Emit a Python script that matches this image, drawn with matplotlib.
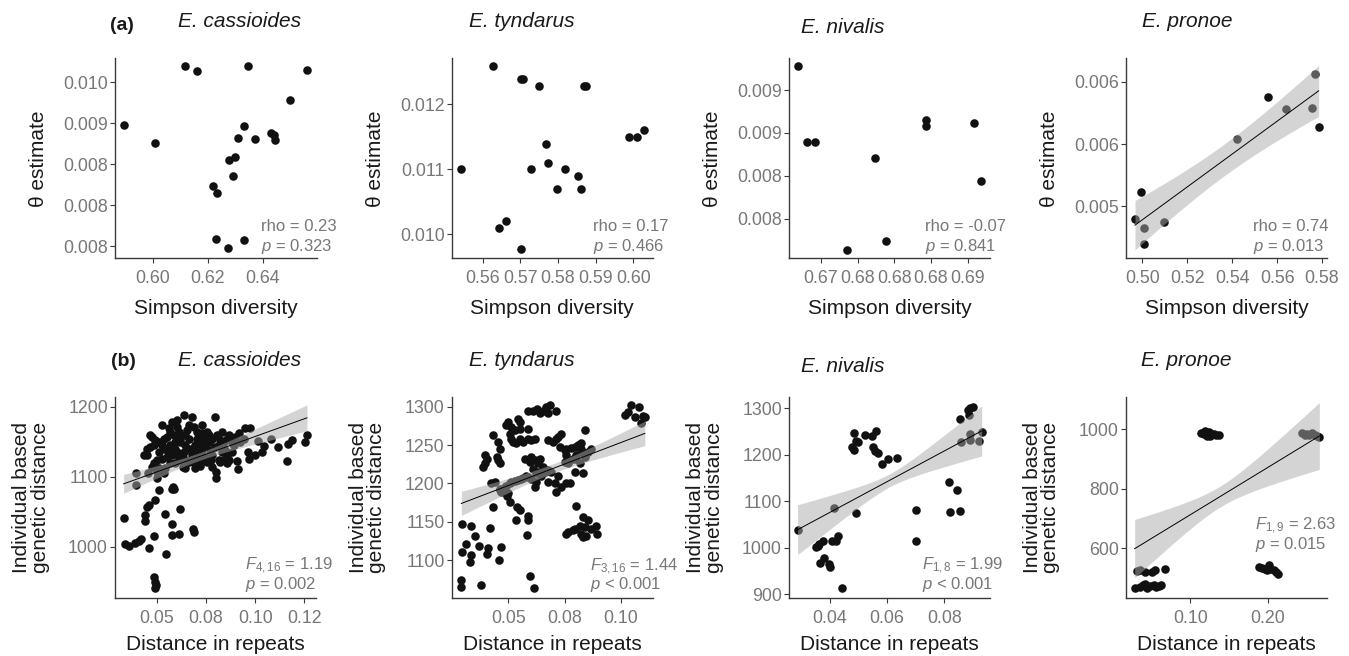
import numpy as np
import matplotlib
matplotlib.use("Agg")
import matplotlib.pyplot as plt

plt.rcParams['font.family'] = ['Liberation Sans', 'DejaVu Sans']
plt.rcParams['mathtext.fontset'] = 'custom'
plt.rcParams['mathtext.rm'] = 'Liberation Sans'
plt.rcParams['mathtext.it'] = 'Liberation Sans:italic'

species = ['E. cassioides', 'E. tyndarus', 'E. nivalis', 'E. pronoe']

# (a) Simpson diversity vs theta estimate
cas_simpson = [0.5896, 0.6010, 0.6116, 0.6162, 0.6345, 0.6562, 0.6499, 0.6331, 0.6310, 0.6372, 0.6429,
               0.6441, 0.6445, 0.6279, 0.6299, 0.6293, 0.6218, 0.6233, 0.6230, 0.6273, 0.6333]
cas_theta = [0.00948, 0.00926, 0.01019, 0.01014, 0.01020, 0.01015, 0.00978, 0.00947, 0.00932, 0.00930, 0.00938,
             0.00935, 0.00929, 0.00905, 0.00908, 0.00885, 0.00873, 0.00865, 0.00808, 0.00797, 0.00807]

tyn_simpson = [0.5627, 0.5702, 0.5708, 0.5750, 0.5869, 0.5873, 0.5989, 0.6009, 0.6029, 0.5542,
               0.5767, 0.5773, 0.5728, 0.5819, 0.5854, 0.5796, 0.5860, 0.5663, 0.5644, 0.5702]
tyn_theta = [0.01259, 0.01239, 0.01239, 0.01229, 0.01229, 0.01229, 0.01150, 0.01150, 0.01160, 0.01100,
             0.01139, 0.01110, 0.01100, 0.01100, 0.01090, 0.01070, 0.01070, 0.01020, 0.01010, 0.00977]

niv_simpson = [0.66682, 0.66805, 0.66918, 0.67736, 0.68427, 0.68427, 0.69082, 0.69186, 0.67359, 0.67886]
niv_theta = [0.009284, 0.008400, 0.008400, 0.008205, 0.008657, 0.008583, 0.008618, 0.007936, 0.007141, 0.007238]

pro_simpson = [0.49673, 0.49955, 0.50059, 0.50074, 0.50980, 0.54215, 0.55581, 0.56397, 0.57688, 0.57570, 0.57852]
pro_theta = [0.004901, 0.005115, 0.004826, 0.004700, 0.004874, 0.005539, 0.005877, 0.005778, 0.006062,
             0.005786, 0.005638]

rho_values = ['0.23', '0.17', '-0.07', '0.74']
rho_p = ['= 0.323', '= 0.466', '= 0.841', '= 0.013']

# (b) distance in repeats vs individual based genetic distance
cas_repeats = [0.0330, 0.0335, 0.0359, 0.0390, 0.0410, 0.0420, 0.0458, 0.0483, 0.0485, 0.0492, 0.0488, 0.0495,
               0.0548, 0.0576, 0.0610, 0.0576, 0.0619, 0.0539, 0.0441, 0.0437, 0.0449, 0.0458, 0.0492, 0.0509,
               0.0576, 0.0587, 0.0582, 0.0682, 0.0687, 0.0393, 0.0393, 0.0454, 0.0500, 0.0502, 0.0534,
               0.1264, 0.1252, 0.1187, 0.1165, 0.1162, 0.1114, 0.1082, 0.1043, 0.1013, 0.1035,
               0.1001, 0.0963, 0.0967, 0.0950, 0.0975, 0.0919, 0.0899, 0.0885, 0.0907, 0.0912,
               0.0865, 0.0848, 0.0814, 0.0800, 0.0800, 0.0831, 0.0797, 0.0865, 0.0831, 0.0777,
               0.0755, 0.0780, 0.0729, 0.0695, 0.0712, 0.0678, 0.0641, 0.0631, 0.0610, 0.0593,
               0.0568, 0.0543, 0.0526, 0.0509, 0.0475, 0.0466, 0.0492, 0.0509, 0.0526, 0.0560,
               0.0576, 0.0602, 0.0636, 0.0678, 0.0661, 0.0687, 0.0704, 0.0729, 0.0738, 0.0763,
               0.0721, 0.0695, 0.0661, 0.0644, 0.0610, 0.0585, 0.0551, 0.0534, 0.0619, 0.0644,
               0.0670, 0.0704, 0.0729, 0.0746, 0.0772, 0.0797, 0.0814, 0.0840, 0.0856, 0.0873,
               0.0890, 0.0924, 0.0941, 0.0780, 0.0806, 0.0823, 0.0636, 0.0602, 0.0576, 0.0551,
               0.0526, 0.0500, 0.0483, 0.0432, 0.0449, 0.0543, 0.0568, 0.0593, 0.0610, 0.0712,
               0.0746, 0.0780, 0.0856, 0.0661, 0.0636, 0.0678, 0.0593, 0.0619, 0.0653, 0.0602,
               0.0568, 0.0704, 0.0729, 0.0755, 0.0763, 0.0823, 0.0848, 0.0882, 0.0856, 0.0483,
               0.0466, 0.0449, 0.0551, 0.0576, 0.0695, 0.0721, 0.0509, 0.0475]
cas_gendist = [1041, 1004, 1001, 1005, 1009, 1012, 998, 1016, 957, 950, 942, 946,
               990, 1017, 1018, 1033, 1054, 1047, 1037, 1045, 1057, 1060, 1067, 1081,
               1083, 1082, 1086, 1026, 1022, 1088, 1106, 1105, 1098, 1107, 1106,
               1160, 1149, 1152, 1146, 1123, 1143, 1154, 1144, 1151, 1135,
               1131, 1135, 1126, 1169, 1170, 1162, 1157, 1146, 1122, 1111,
               1124, 1126, 1124, 1107, 1098, 1164, 1185, 1159, 1135, 1124,
               1121, 1114, 1121, 1112, 1126, 1128, 1112, 1114, 1128, 1140,
               1145, 1140, 1145, 1150, 1157, 1159, 1152, 1135, 1173, 1169,
               1178, 1181, 1188, 1185, 1173, 1171, 1164, 1173, 1154, 1150,
               1147, 1145, 1154, 1159, 1164, 1159, 1157, 1154, 1150, 1145,
               1140, 1135, 1138, 1143, 1138, 1143, 1145, 1150, 1154, 1152,
               1145, 1150, 1154, 1154, 1159, 1121, 1135, 1135, 1131, 1128,
               1126, 1124, 1119, 1131, 1131, 1112, 1119, 1119, 1124, 1131,
               1128, 1131, 1119, 1121, 1126, 1133, 1150, 1154, 1166, 1171,
               1164, 1154, 1162, 1164, 1159, 1152, 1138, 1135, 1131, 1145,
               1143, 1140, 1138, 1140, 1119, 1116, 1112, 1114]

tyn_repeats = [0.0294, 0.0332, 0.0350, 0.0313, 0.0294, 0.0332, 0.0328, 0.0368, 0.0409, 0.0406, 0.0417, 0.0469,
               0.0457, 0.0291, 0.0291, 0.0380, 0.0595, 0.0614, 0.0584, 0.0587, 0.0587, 0.0536, 0.0550, 0.0540,
               0.0506, 0.0495, 0.0432, 0.0469, 0.0498,
               0.0595, 0.0617, 0.0632, 0.0610, 0.0632, 0.0647, 0.0625, 0.0620, 0.0602, 0.0580, 0.0654, 0.0639,
               0.0602, 0.0573, 0.0558, 0.0528, 0.0506, 0.0484, 0.0461, 0.0439, 0.0677, 0.0706, 0.0714, 0.0736,
               0.0758, 0.0773, 0.0721, 0.0691, 0.0662,
               0.0395, 0.0406, 0.0398, 0.0454, 0.0461, 0.0387, 0.0451, 0.0432, 0.0454, 0.0461, 0.0491, 0.0498,
               0.0513, 0.0528, 0.0550, 0.0506, 0.0513, 0.0521, 0.0536, 0.0550, 0.0565, 0.0587, 0.0602, 0.0617,
               0.0587, 0.0550, 0.0543,
               0.0587, 0.0610, 0.0629, 0.0639, 0.0654, 0.0669, 0.0684, 0.0677, 0.0714,
               0.0677, 0.0699, 0.0714, 0.0721, 0.0736, 0.0728, 0.0751, 0.0758, 0.0780, 0.0795, 0.0810, 0.0825,
               0.0840, 0.0825, 0.0832, 0.0803, 0.0788, 0.0818, 0.0795, 0.0832, 0.0765, 0.0751, 0.0758,
               0.0424, 0.0461, 0.0491, 0.0513, 0.0543, 0.0565, 0.0587, 0.0625, 0.0654, 0.0677, 0.0765, 0.0803,
               0.0840, 0.0855, 0.0869,
               0.0803, 0.0832, 0.0855, 0.0840, 0.0818, 0.0795, 0.0765, 0.0758, 0.0788, 0.0825, 0.0832, 0.0847,
               0.0892, 0.0896, 0.0869,
               0.1018, 0.1033, 0.1045, 0.1062, 0.1080, 0.1099, 0.1107, 0.1089]
tyn_gendist = [1147, 1144, 1132, 1121, 1110, 1107, 1097, 1119, 1116, 1108, 1142, 1117,
               1100, 1074, 1065, 1067, 1079, 1063, 1133, 1157, 1152, 1152, 1165, 1169,
               1176, 1184, 1169, 1189, 1187,
               1228, 1230, 1226, 1219, 1215, 1210, 1202, 1195, 1206, 1210, 1221, 1232,
               1234, 1232, 1206, 1203, 1200, 1195, 1191, 1202, 1202, 1200, 1189, 1195,
               1200, 1200, 1210, 1215, 1215,
               1237, 1232, 1226, 1230, 1226, 1221, 1234, 1263, 1254, 1245, 1276, 1280,
               1273, 1269, 1271, 1265, 1258, 1254, 1252, 1258, 1254, 1258, 1256, 1258,
               1271, 1280, 1284,
               1294, 1295, 1297, 1292, 1294, 1300, 1302, 1292, 1295,
               1256, 1254, 1258, 1260, 1265, 1247, 1243, 1245, 1246, 1247, 1250, 1252,
               1269, 1245, 1239, 1237, 1232, 1226, 1215, 1213, 1228, 1228, 1237,
               1201, 1193, 1197, 1202, 1205, 1207, 1208, 1213, 1216, 1218, 1226, 1232,
               1234, 1241, 1245,
               1171, 1156, 1152, 1143, 1145, 1141, 1137, 1134, 1139, 1134, 1130, 1132,
               1145, 1134, 1141,
               1289, 1293, 1302, 1287, 1300, 1288, 1287, 1279]

niv_repeats = [0.0287, 0.0357, 0.0377, 0.0407, 0.0421, 0.0427, 0.0366, 0.0380, 0.0398, 0.0401, 0.0444, 0.0413,
               0.0493, 0.0485, 0.0491, 0.0479, 0.0485, 0.0497, 0.0524, 0.0548, 0.0561, 0.0552, 0.0559, 0.0570,
               0.0584, 0.0602, 0.0634, 0.0701, 0.0701, 0.0818, 0.0844, 0.0821, 0.0855, 0.0856, 0.0882, 0.0891,
               0.0899, 0.0887, 0.0858, 0.0890, 0.0891, 0.0920, 0.0931, 0.0351, 0.0363]
niv_gendist = [1039, 1005, 1015, 1014, 1014, 1025, 968, 978, 966, 959, 914, 1086,
               1074, 1248, 1229, 1217, 1210, 1228, 1242, 1240, 1252, 1217, 1208, 1205,
               1181, 1190, 1193, 1081, 1015, 1142, 1125, 1077, 1080, 1278, 1296, 1301,
               1303, 1285, 1228, 1244, 1231, 1230, 1249, 1002, 1009]

pro_repeats = [0.1142, 0.1172, 0.1203, 0.1228, 0.1246, 0.1272, 0.1302, 0.1332, 0.1366, 0.1216, 0.1185, 0.1259,
               0.2444, 0.2478, 0.2509, 0.2539, 0.2573, 0.2608, 0.2638, 0.2668,
               0.1892, 0.1927, 0.1961, 0.2013, 0.2034, 0.2078, 0.2108, 0.2133, 0.1991,
               0.0310, 0.0354, 0.0410, 0.0504, 0.0539, 0.0677,
               0.0280, 0.0353, 0.0384, 0.0410, 0.0440, 0.0483, 0.0526, 0.0556, 0.0600, 0.0625]
pro_gendist = [987.7, 984.4, 987.7, 981.0, 989.9, 983.2, 984.4, 981.0, 978.8, 976.5, 992.2, 976.5,
               987.7, 981.0, 984.4, 978.8, 987.7, 981.0, 976.5, 973.2,
               537.4, 534.1, 531.8, 543.0, 529.6, 526.3, 520.7, 515.1, 528.5,
               524.0, 526.2, 520.7, 520.7, 526.2, 531.8,
               467.0, 470.4, 476.0, 481.6, 467.0, 473.7, 478.1, 470.4, 473.7, 476.0]

# fitted model lines of panel (b): intercept, slope, band centre, half-width there, half-width at right end
fit_intercept = [1056.7, 1141.3, 944.3, 554.6]
fit_slope = [1006.5, 1118.9, 3299.5, 1582.0]
band_x0 = [0.0714, 0.0696, 0.0608, 0.1384]
band_h0 = [5.5, 6.0, 14.0, 35.0]
band_hright = [18.5, 16.0, 54.0, 112.0]

f_df = ['4,16', '3,16', '1,8', '1,9']
f_values = ['1.19', '1.44', '1.99', '2.63']
f_p = ['= 0.002', '< 0.001', '< 0.001', '= 0.015']

# tick labels as printed
top_xticks = [[0.60, 0.62, 0.64], [0.56, 0.57, 0.58, 0.59, 0.60],
              [0.670, 0.675, 0.680, 0.685, 0.690], [0.50, 0.52, 0.54, 0.56, 0.58]]
top_xlabels = [['0.60', '0.62', '0.64'], ['0.56', '0.57', '0.58', '0.59', '0.60'],
               ['0.67', '0.68', '0.68', '0.68', '0.69'], ['0.50', '0.52', '0.54', '0.56', '0.58']]
top_yticks = [[0.0100, 0.0095, 0.0090, 0.0085, 0.0080], [0.012, 0.011, 0.010],
              [0.0090, 0.0085, 0.0080, 0.0075], [0.0060, 0.0055, 0.0050]]
top_ylabels = [['0.010', '0.009', '0.008', '0.008', '0.008'], ['0.012', '0.011', '0.010'],
               ['0.009', '0.009', '0.008', '0.008'], ['0.006', '0.006', '0.005']]
bot_xticks = [[0.050, 0.075, 0.100, 0.125], [0.050, 0.075, 0.100], [0.04, 0.06, 0.08], [0.10, 0.20]]
bot_xlabels = [['0.05', '0.08', '0.10', '0.12'], ['0.05', '0.08', '0.10'], ['0.04', '0.06', '0.08'],
               ['0.10', '0.20']]
bot_yticks = [[1000, 1100, 1200], [1100, 1150, 1200, 1250, 1300], [900, 1000, 1100, 1200, 1300],
              [600, 800, 1000]]
bot_ylabels = [[str(v) for v in t] for t in bot_yticks]

# ---------------------------------------------------------------- layout
W, H = 1349, 656
AXIS_COL = '#3a3a3a'
TICK_COL = '#777777'
PT_COL = '#111111'
BAND_COL = '#aaaaaa'
PT_SIZE = 38
TICK_SIZE = 12.8

top_boxes = [(115, 58.3, 316.7, 258.3), (451.7, 58.3, 652.7, 258.3),
             (789, 58.3, 990, 258.3), (1126, 58.3, 1327.3, 258.3)]
bot_boxes = [(115, 396.7, 316, 597.7), (451.7, 396.7, 652.7, 597.7),
             (789, 396.7, 990, 597.7), (1126, 396.7, 1327.3, 597.7)]
top_lims = [((0.5863, 0.6596), (0.00785, 0.01029)), ((0.5518, 0.6051), (0.00963, 0.01271)),
            ((0.66564, 0.69305), (0.00704, 0.00937)), ((0.49273, 0.58237), (0.004584, 0.006188))]
bot_lims = [((0.0286, 0.1310), (927.8, 1214)), ((0.0248, 0.1142), (1051, 1313)),
            ((0.0257, 0.0960), (892.8, 1325)), ((0.0168, 0.2771), (434.6, 1108.4))]

fig = plt.figure(figsize=(W / 100, H / 100), dpi=100)


def px_text(x, y, s, **kw):
    fig.text(x / W, 1 - y / H, s, **kw)


def make_axes(box, lims, xt, xl, yt, yl):
    l, t, r, b = box
    ax = fig.add_axes([l / W, 1 - b / H, (r - l) / W, (b - t) / H])
    for side in ['top', 'right']:
        ax.spines[side].set_visible(False)
    for side in ['left', 'bottom']:
        ax.spines[side].set_color(AXIS_COL)
        ax.spines[side].set_linewidth(1.0)
    ax.set_xlim(*lims[0])
    ax.set_ylim(*lims[1])
    ax.set_xticks(xt, xl)
    ax.set_yticks(yt, yl)
    ax.tick_params(length=3.6, width=0.8, color=AXIS_COL, labelcolor=TICK_COL, labelsize=TICK_SIZE)
    ax.tick_params(axis='x', pad=5)
    ax.tick_params(axis='y', pad=1.5)
    return ax, b - t


def ols_band(x, y, t_crit):
    x = np.asarray(x)
    y = np.asarray(y)
    n = len(x)
    slope, icept = np.polyfit(x, y, 1)
    resid = y - (icept + slope * x)
    s = np.sqrt(np.sum(resid ** 2) / (n - 2))
    sxx = np.sum((x - x.mean()) ** 2)
    xs = np.linspace(x.min(), x.max(), 100)
    fit = icept + slope * xs
    se = s * np.sqrt(1 / n + (xs - x.mean()) ** 2 / sxx)
    return xs, fit, fit - t_crit * se, fit + t_crit * se


def model_band(x, icept, slope, x0, h0, h_right):
    x = np.asarray(x)
    xs = np.linspace(x.min(), x.max(), 100)
    fit = icept + slope * xs
    k = np.sqrt(h_right ** 2 - h0 ** 2) / (x.max() - x0)
    half = np.sqrt(h0 ** 2 + (k * (xs - x0)) ** 2)
    return xs, fit, fit - half, fit + half


top_x = [cas_simpson, tyn_simpson, niv_simpson, pro_simpson]
top_y = [cas_theta, tyn_theta, niv_theta, pro_theta]
bot_x = [cas_repeats, tyn_repeats, niv_repeats, pro_repeats]
bot_y = [cas_gendist, tyn_gendist, niv_gendist, pro_gendist]

# ---------------------------------------------------------------- row (a)
rho_left = [261, 593.3, 925, 1253]
for i in range(4):
    ax, h = make_axes(top_boxes[i], top_lims[i], top_xticks[i], top_xlabels[i], top_yticks[i], top_ylabels[i])
    ax.scatter(top_x[i], top_y[i], s=PT_SIZE, color=PT_COL, linewidths=0, zorder=2)
    if i == 3:
        xs, fit, lo, hi = ols_band(top_x[i], top_y[i], 2.262)
        ax.fill_between(xs, lo, hi, color=BAND_COL, alpha=0.5, linewidth=0, zorder=3)
        ax.plot(xs, fit, color='black', lw=0.7, zorder=4)
    ax.set_xlabel('Simpson diversity', fontsize=15, color='#1a1a1a')
    ax.xaxis.set_label_coords(0.5, -56 / h)
    ax.xaxis.label.set_va('baseline')
    ax.set_ylabel('θ estimate', fontsize=15, color='#1a1a1a')
    ax.yaxis.set_label_coords(-76 / 201, 0.5)
    ax.yaxis.label.set_va('center')
    px_text(rho_left[i], 231, 'rho = ' + rho_values[i], fontsize=12, color=TICK_COL)
    px_text(rho_left[i], 250.5, r'$p$ ' + rho_p[i], fontsize=12, color=TICK_COL)

top_title_x = [240, 522, 843, 1187.5]
top_title_y = [27.3, 27.3, 33.3, 27.3]
for i in range(4):
    px_text(top_title_x[i], top_title_y[i], species[i], fontsize=15, fontstyle='italic',
            ha='center', color='#1a1a1a')
px_text(110, 30, '(a)', fontsize=14, fontweight='bold', color='#1a1a1a')

# ---------------------------------------------------------------- row (b)
f_left = [245, 590, 921.7, 1255]
f_base = [570, 570.7, 570, 530]
for i in range(4):
    ax, h = make_axes(bot_boxes[i], bot_lims[i], bot_xticks[i], bot_xlabels[i], bot_yticks[i], bot_ylabels[i])
    ax.scatter(bot_x[i], bot_y[i], s=PT_SIZE, color=PT_COL, linewidths=0, zorder=2)
    xs, fit, lo, hi = model_band(bot_x[i], fit_intercept[i], fit_slope[i], band_x0[i], band_h0[i],
                                 band_hright[i])
    ax.fill_between(xs, lo, hi, color=BAND_COL, alpha=0.5, linewidth=0, zorder=3)
    ax.plot(xs, fit, color='black', lw=0.7, zorder=4)
    ax.set_xlabel('Distance in repeats', fontsize=15, color='#1a1a1a')
    ax.xaxis.set_label_coords(0.5, -52 / h)
    ax.xaxis.label.set_va('baseline')
    ax.set_ylabel('Individual based\ngenetic distance', fontsize=15, color='#1a1a1a', linespacing=0.95)
    ax.yaxis.set_label_coords(-84 / 201, 0.5)
    ax.yaxis.label.set_va('center')
    px_text(f_left[i], f_base[i], r'$F_{' + f_df[i] + '}$ = ' + f_values[i], fontsize=12, color=TICK_COL)
    px_text(f_left[i], f_base[i] + 18.5, r'$p$ ' + f_p[i], fontsize=12, color=TICK_COL)

bot_title_x = [239.7, 522, 842.5, 1186.5]
bot_title_y = [365.7, 365.7, 371.7, 365.7]
for i in range(4):
    px_text(bot_title_x[i], bot_title_y[i], species[i], fontsize=15, fontstyle='italic',
            ha='center', color='#1a1a1a')
px_text(110.7, 365.7, '(b)', fontsize=14, fontweight='bold', color='#1a1a1a')

fig.savefig('out.png', dpi=100)
